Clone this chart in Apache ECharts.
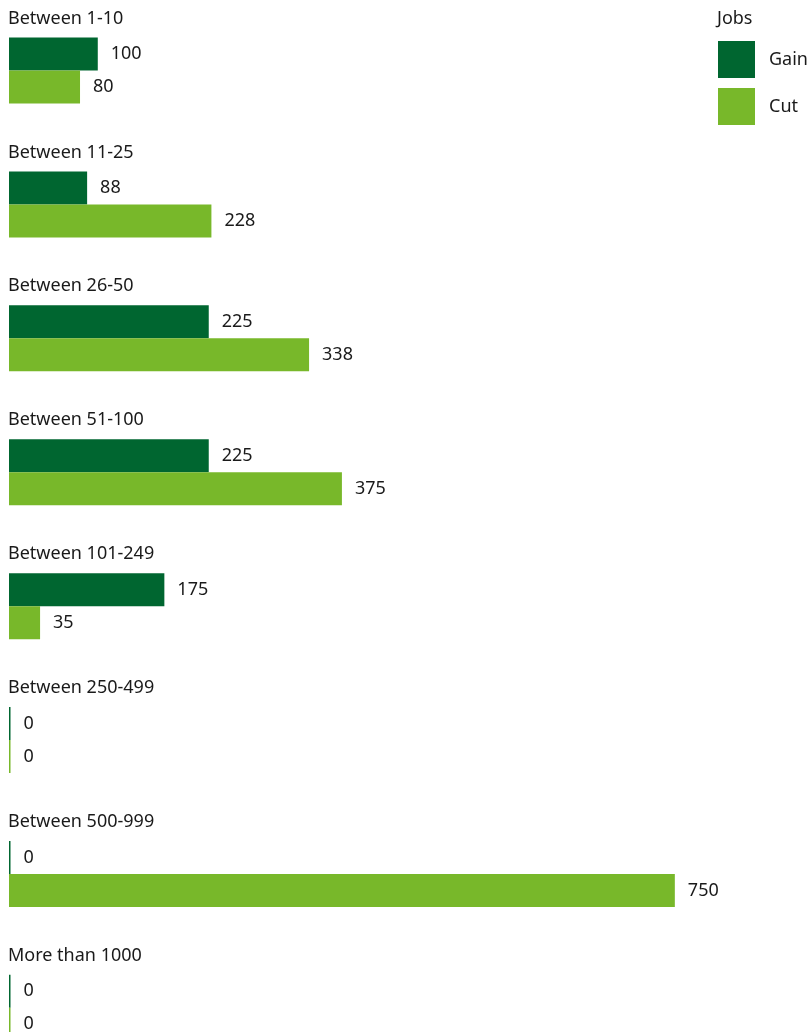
<!DOCTYPE html>
<html>
<head>
<meta charset="utf-8">
<script src="https://cdn.jsdelivr.net/npm/echarts@6/dist/echarts.min.js"></script>
<style>
  html, body { margin: 0; padding: 0; background: #ffffff; }
  #chart { width: 808px; height: 1032px; }
</style>
</head>
<body>
<div id="chart"></div>
<script>
// Company size bands and the jobs gained / cut in each
const categories = [
  'Between 1-10', 'Between 11-25', 'Between 26-50', 'Between 51-100',
  'Between 101-249', 'Between 250-499', 'Between 500-999', 'More than 1000'
];
const gainValues = [100, 88, 225, 225, 175, 0, 0, 0];
const cutValues = [80, 228, 338, 375, 35, 0, 750, 0];
const seriesNames = ['Gain', 'Cut'];
const legendTitle = 'Jobs';

const FONT = '"Noto Sans", sans-serif';
const TEXT = '#1a1a1a';
const DARK = '#006630';
const LIGHT = '#78b82a';

const chart = echarts.init(document.getElementById('chart'), null, { renderer: 'canvas' });

const labelStyle = {
  show: true,
  position: 'right',
  distance: 13,
  color: TEXT,
  fontFamily: FONT,
  fontSize: 18
};

chart.setOption({
  animation: false,
  backgroundColor: '#ffffff',
  title: {
    text: legendTitle,
    left: 717,
    top: 10,
    padding: 0,
    textStyle: { color: TEXT, fontFamily: FONT, fontSize: 18, fontWeight: 'normal' }
  },
  legend: {
    orient: 'vertical',
    left: 718,
    top: 41,
    padding: 0,
    itemWidth: 37,
    itemHeight: 37,
    itemGap: 10,
    icon: 'rect',
    textStyle: { color: TEXT, fontFamily: FONT, fontSize: 18, padding: [0, 0, 0, 9] },
    data: seriesNames
  },
  grid: {
    left: 9,
    right: 0,
    top: 3.6,
    height: 1071.2,
    containLabel: false,
    outerBoundsMode: 'none'
  },
  xAxis: {
    type: 'value',
    min: 0,
    max: 900,
    show: false
  },
  yAxis: {
    type: 'category',
    inverse: true,
    data: categories,
    axisLine: { show: false },
    axisTick: { show: false },
    splitLine: { show: false },
    axisLabel: {
      inside: true,
      margin: -1,
      align: 'left',
      verticalAlign: 'middle',
      // the band name sits on its own line above the pair of bars
      formatter: (v) => '{t|' + v + '}\n{s|}',
      rich: {
        t: { color: TEXT, fontFamily: FONT, fontSize: 18, lineHeight: 20 },
        s: { lineHeight: 104 }
      }
    }
  },
  series: [
    {
      name: seriesNames[0],
      type: 'bar',
      data: gainValues,
      barWidth: 33,
      barGap: '0%',
      barMinHeight: 1.5,
      itemStyle: { color: DARK },
      label: labelStyle
    },
    {
      name: seriesNames[1],
      type: 'bar',
      data: cutValues,
      barWidth: 33,
      barGap: '0%',
      barMinHeight: 1.5,
      itemStyle: { color: LIGHT },
      label: labelStyle
    }
  ]
});
</script>
</body>
</html>
